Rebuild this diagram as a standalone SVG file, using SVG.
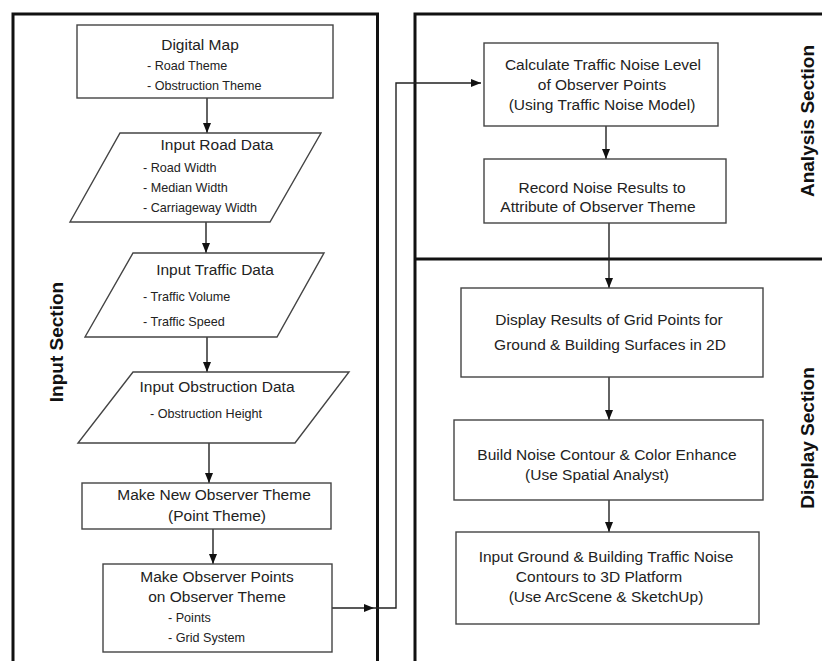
<svg xmlns="http://www.w3.org/2000/svg" width="822" height="661" viewBox="0 0 822 661">
<style>
.sec{fill:none;stroke:#111;stroke-width:3}
.box{fill:#fff;stroke:#444;stroke-width:1.4}
.t{font-family:"Liberation Sans",Arial,sans-serif;font-size:15.5px;fill:#222}
.s{font-family:"Liberation Sans",Arial,sans-serif;font-size:12.6px;fill:#222}
.lab{font-family:"Liberation Sans",Arial,sans-serif;font-size:19px;font-weight:bold;fill:#111}
.c{text-anchor:middle}
.con{fill:none;stroke:#222;stroke-width:1.4}
</style>
<defs>
<marker id="ah" markerUnits="userSpaceOnUse" markerWidth="10" markerHeight="10" viewBox="0 0 10 10" refX="10" refY="5" orient="auto">
<path d="M0,1 L10,5 L0,9 Z" fill="#111"/>
</marker>
</defs>
<rect width="822" height="661" fill="#fff"/>
<g id="sections">
<rect class="sec" x="13" y="14" width="364.5" height="700"/>
<rect class="sec" x="415" y="14" width="420" height="700"/>
<line class="sec" x1="415" y1="259" x2="822" y2="259"/>
<text class="lab c" transform="translate(63,342) rotate(-90)">Input Section</text>
<text class="lab c" transform="translate(814,121) rotate(-90)">Analysis Section</text>
<text class="lab c" transform="translate(814,438) rotate(-90)">Display Section</text>
</g>
<g id="connectors">
<line class="con" x1="207" y1="98" x2="207" y2="133" marker-end="url(#ah)"/>
<line class="con" x1="206" y1="222" x2="206" y2="253" marker-end="url(#ah)"/>
<line class="con" x1="207" y1="337" x2="207" y2="372" marker-end="url(#ah)"/>
<line class="con" x1="209" y1="443" x2="209" y2="483" marker-end="url(#ah)"/>
<line class="con" x1="213" y1="529" x2="213" y2="564" marker-end="url(#ah)"/>
<line class="con" x1="332" y1="608" x2="374" y2="608" marker-end="url(#ah)"/>
<polyline class="con" points="374,608 396,608 396,83 481,83" marker-end="url(#ah)"/>
<line class="con" x1="606" y1="126" x2="606" y2="159" marker-end="url(#ah)"/>
<line class="con" x1="609" y1="223" x2="609" y2="288" marker-end="url(#ah)"/>
<line class="con" x1="609" y1="377" x2="609" y2="420" marker-end="url(#ah)"/>
<line class="con" x1="609" y1="500" x2="609" y2="532" marker-end="url(#ah)"/>
</g>
<g id="digital-map">
<rect class="box" x="77" y="25" width="256" height="73"/>
<text class="t c" x="200" y="50">Digital Map</text>
<text class="s" x="147" y="70">- Road Theme</text>
<text class="s" x="147" y="90">- Obstruction Theme</text>
</g>
<g id="input-road-data">
<polygon class="box" points="120,133 321,133 270,222 70,222"/>
<text class="t c" x="217" y="150">Input Road Data</text>
<text class="s" x="143" y="172">- Road Width</text>
<text class="s" x="143" y="192">- Median Width</text>
<text class="s" x="143" y="212">- Carriageway Width</text>
</g>
<g id="input-traffic-data">
<polygon class="box" points="133,253 324,253 277,337 85,337"/>
<text class="t c" x="215" y="275">Input Traffic Data</text>
<text class="s" x="143" y="301">- Traffic Volume</text>
<text class="s" x="143" y="326">- Traffic Speed</text>
</g>
<g id="input-obstruction-data">
<polygon class="box" points="133,372 349,372 295,443 78,443"/>
<text class="t c" x="217" y="392">Input Obstruction Data</text>
<text class="s" x="150" y="418">- Obstruction Height</text>
</g>
<g id="make-new-observer-theme">
<rect class="box" x="82" y="483" width="249" height="46"/>
<text class="t c" x="214" y="500">Make New Observer Theme</text>
<text class="t c" x="217" y="521">(Point Theme)</text>
</g>
<g id="make-observer-points">
<rect class="box" x="103" y="564" width="229" height="88"/>
<text class="t c" x="217" y="582">Make Observer Points</text>
<text class="t c" x="217" y="602">on Observer Theme</text>
<text class="s" x="168" y="622">- Points</text>
<text class="s" x="168" y="642">- Grid System</text>
</g>
<g id="calculate-noise">
<rect class="box" x="484" y="43" width="234" height="83"/>
<text class="t c" x="603" y="70">Calculate Traffic Noise Level</text>
<text class="t c" x="602" y="90">of Observer Points</text>
<text class="t c" x="602" y="110">(Using Traffic Noise Model)</text>
</g>
<g id="record-results">
<rect class="box" x="484" y="159" width="242" height="64"/>
<text class="t c" x="602" y="193">Record Noise Results to</text>
<text class="t c" x="598" y="212">Attribute of Observer Theme</text>
</g>
<g id="display-results">
<rect class="box" x="461" y="288" width="302" height="89"/>
<text class="t c" x="609" y="325">Display Results of Grid Points for</text>
<text class="t c" x="610" y="350">Ground &amp; Building Surfaces in 2D</text>
</g>
<g id="build-contour">
<rect class="box" x="454" y="420" width="309" height="80"/>
<text class="t c" x="607" y="460">Build Noise Contour &amp; Color Enhance</text>
<text class="t c" x="597" y="480">(Use Spatial Analyst)</text>
</g>
<g id="input-3d">
<rect class="box" x="456" y="532" width="303" height="92"/>
<text class="t c" x="606" y="562">Input Ground &amp; Building Traffic Noise</text>
<text class="t c" x="599" y="582">Contours to 3D Platform</text>
<text class="t c" x="606" y="602">(Use ArcScene &amp; SketchUp)</text>
</g>
</svg>
